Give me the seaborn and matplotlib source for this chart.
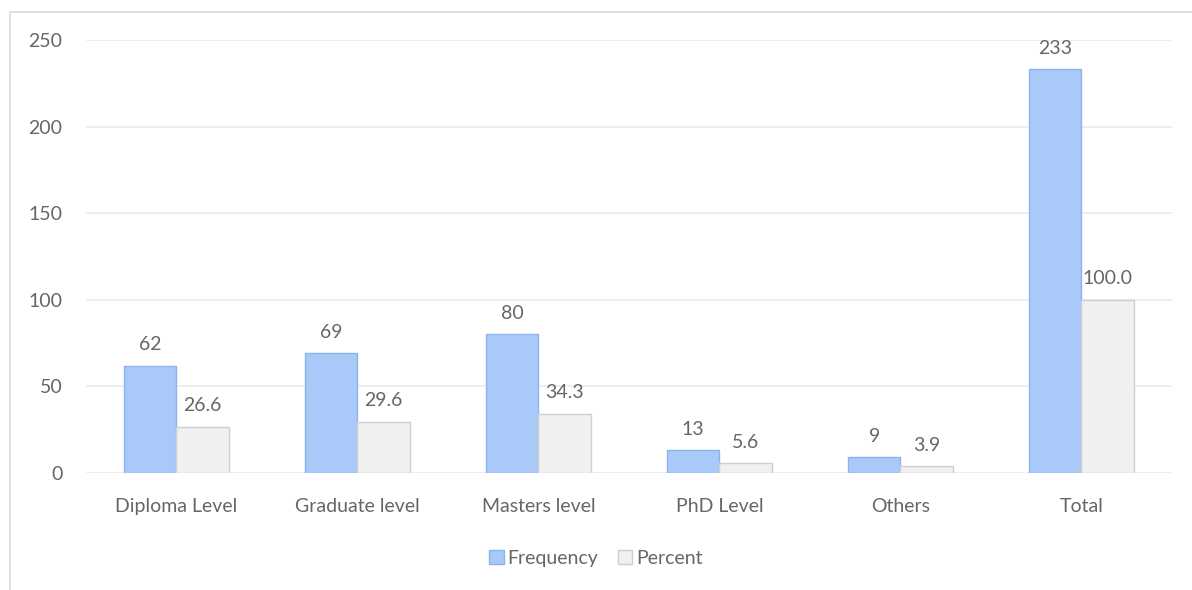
import matplotlib
matplotlib.use("Agg")
import matplotlib.pyplot as plt
import matplotlib.patches as mpatches
import seaborn as sns
import pandas as pd

levels = ["Diploma Level", "Graduate level", "Masters level", "PhD Level", "Others", "Total"]
frequency = [62, 69, 80, 13, 9, 233]
percent = [26.6, 29.6, 34.3, 5.6, 3.9, 100.0]
series_names = ["Frequency", "Percent"]
y_ticks = [0, 50, 100, 150, 200, 250]

df = pd.DataFrame({
    "Level": levels * 2,
    "Value": frequency + percent,
    "Series": [series_names[0]] * len(levels) + [series_names[1]] * len(levels),
})

sns.set_theme(style="white")
plt.rcParams["font.family"] = ["Lato", "DejaVu Sans"]

text_color = "#666666"
fills = {"Frequency": "#A9C9F9", "Percent": "#F0F0F0"}
edges = {"Frequency": "#8DB3EE", "Percent": "#CFCFCF"}

fig = plt.figure(figsize=(11.92, 5.90), dpi=100)
ax = fig.add_axes([0.0721, 0.1983, 0.9111, 0.7339])

sns.barplot(data=df, x="Level", y="Value", hue="Series", order=levels,
            hue_order=series_names, palette=fills, saturation=1,
            width=0.58, ax=ax, legend=False, zorder=3)

# outline each series and put its value above each bar
for container, name, vals in zip(ax.containers, series_names, [frequency, percent]):
    for patch in container:
        patch.set_edgecolor(edges[name])
        patch.set_linewidth(1.0)
    fmt = ["{:d}".format(v) if name == "Frequency" else "{:.1f}".format(v) for v in vals]
    ax.bar_label(container, labels=fmt, padding=9, fontsize=14, color=text_color)

ax.set_ylim(0, 250)
ax.set_xlim(-0.5, len(levels) - 0.5)
ax.set_yticks(y_ticks)
ax.yaxis.grid(True, color="#EBEBEB", linewidth=1.2, zorder=0)
ax.set_axisbelow(True)
for s in ax.spines.values():
    s.set_visible(False)
ax.set_xlabel("")
ax.set_ylabel("")
ax.tick_params(axis="both", length=0, labelsize=14, labelcolor=text_color)
ax.tick_params(axis="y", pad=17)
ax.tick_params(axis="x", pad=18)

handles = [mpatches.Patch(facecolor=fills[n], edgecolor=edges[n], linewidth=1.0, label=n)
           for n in series_names]
fig.legend(handles=handles, loc="center", bbox_to_anchor=(0.5, 0.054), ncol=2,
           frameon=False, fontsize=14, labelcolor=text_color, handlelength=0.75,
           handleheight=0.75, handletextpad=0.2, columnspacing=1.0)

# chart area border
fig.patches.append(mpatches.Rectangle((10 / 1192, -0.1), 1.2, 1 - 12 / 590 + 0.1,
                                      transform=fig.transFigure, fill=False,
                                      edgecolor="#D9D9D9", linewidth=1.2))

fig.savefig("out.png", dpi=100, facecolor="white")
